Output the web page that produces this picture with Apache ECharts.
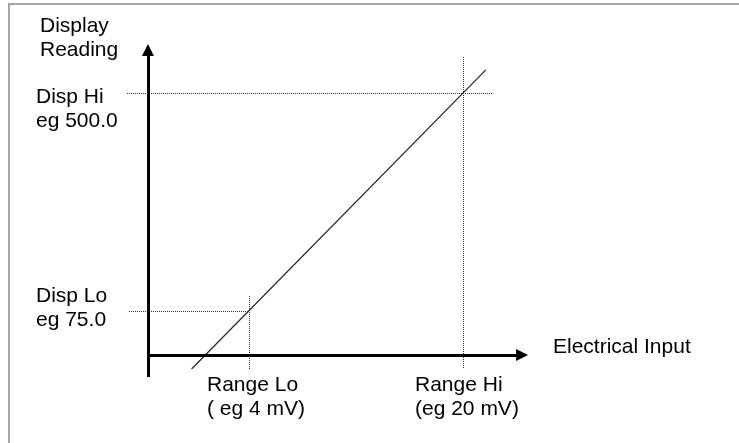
<!DOCTYPE html>
<html>
<head>
<meta charset="utf-8">
<style>
  html, body { margin: 0; padding: 0; background: #fff; }
  #main { width: 739px; height: 443px; }
</style>
<script src="https://cdn.jsdelivr.net/npm/echarts@6/dist/echarts.min.js"></script>
</head>
<body>
<div id="main"></div>
<script>
// axis extents (x in mV, y in display units) - schematic
var xExtent = [-5.65, 25.75];
var yExtent = [-59.5, 603.3];

// range / display points
var rangeLo = 4, rangeHi = 20;
var dispLo = 75, dispHi = 500;

// the response line (two ends)
var responseX = [-0.3, 21.7];
var responseY = [-38, 545];

// drawn axes: origin and arrow ends
var axisX = -3.56;          // where the vertical axis stands
var axisY = -10.8;          // where the horizontal axis lies
var axisXEnd = 24.41;
var axisYStart = -53.7;
var axisYEnd = 583.8;

// guide line extents
var dispHiSpan = [-5.13, 22.24];
var dispLoSpan = [-4.98, rangeLo];
var rangeHiSpan = [-36.1, 572.2];
var rangeLoSpan = [-38.06, 106.2];

var FONT = '21px "Liberation Sans", Arial, sans-serif';

var myChart = echarts.init(document.getElementById('main'));

function seg(x0, y0, x1, y1) {
    return [{ coord: [x0, y0] }, { coord: [x1, y1] }];
}

var guideStyle = { color: '#333', width: 1, type: 'dotted' };

var option = {
    animation: false,
    backgroundColor: '#fff',
    grid: { left: 120, right: 199, top: 40, bottom: 63 },
    xAxis: { type: 'value', min: xExtent[0], max: xExtent[1], show: false },
    yAxis: { type: 'value', min: yExtent[0], max: yExtent[1], show: false },
    series: [
        {
            name: 'response',
            type: 'line',
            clip: false,
            symbol: 'none',
            silent: true,
            lineStyle: { color: '#222', width: 1.2 },
            data: [[responseX[0], responseY[0]], [responseX[1], responseY[1]]]
        },
        {
            name: 'guides',
            type: 'line',
            data: [],
            markLine: {
                silent: true,
                symbol: 'none',
                label: { show: false },
                lineStyle: guideStyle,
                emphasis: { disabled: true },
                data: [
                    seg(dispHiSpan[0], dispHi, dispHiSpan[1], dispHi),
                    seg(dispLoSpan[0], dispLo, dispLoSpan[1], dispLo),
                    seg(rangeHi, rangeHiSpan[0], rangeHi, rangeHiSpan[1]),
                    seg(rangeLo, rangeLoSpan[0], rangeLo, rangeLoSpan[1])
                ]
            }
        },
        {
            name: 'axes',
            type: 'line',
            data: [],
            markLine: {
                silent: true,
                symbol: ['none', 'triangle'],
                symbolSize: 12,
                label: { show: false },
                lineStyle: { color: '#000', width: 3, type: 'solid' },
                emphasis: { disabled: true },
                data: [
                    seg(axisX, axisYStart, axisX, axisYEnd),
                    seg(axisX, axisY, axisXEnd, axisY)
                ]
            }
        }
    ],
    graphic: [
        // frame
        { type: 'polyline', silent: true, shape: { points: [[9, 443], [9, 4], [739, 4]] },
          style: { stroke: '#a6a6a6', lineWidth: 2, fill: null } },
        { type: 'text', left: 40, top: 14, style: { text: 'Display\nReading', font: FONT, lineHeight: 24, fill: '#000' } },
        { type: 'text', left: 36, top: 85, style: { text: 'Disp Hi\neg 500.0', font: FONT, lineHeight: 24, fill: '#000' } },
        { type: 'text', left: 36, top: 284, style: { text: 'Disp Lo\neg 75.0', font: FONT, lineHeight: 24, fill: '#000' } },
        { type: 'text', left: 207, top: 373, style: { text: 'Range Lo\n( eg 4 mV)', font: FONT, lineHeight: 24, fill: '#000' } },
        { type: 'text', left: 415, top: 373, style: { text: 'Range Hi\n(eg 20 mV)', font: FONT, lineHeight: 24, fill: '#000' } },
        { type: 'text', left: 553, top: 335, style: { text: 'Electrical Input', font: FONT, lineHeight: 24, fill: '#000' } }
    ]
};

myChart.setOption(option);
</script>
</body>
</html>
